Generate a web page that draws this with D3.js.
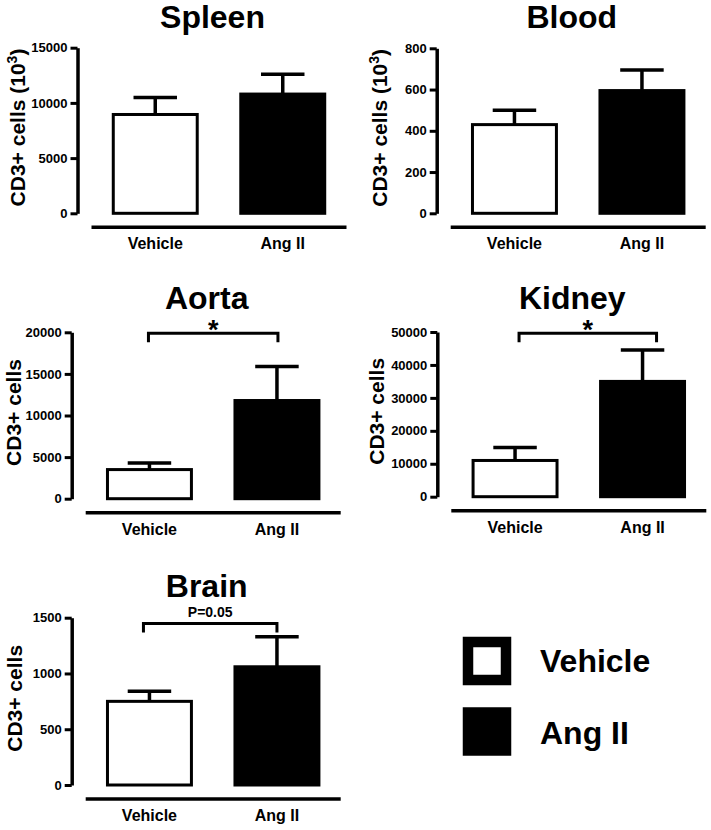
<!DOCTYPE html>
<html><head><meta charset="utf-8">
<script src="https://cdn.jsdelivr.net/npm/d3@7"></script>
<style>
body{margin:0;background:#fff}
text{font-family:"Liberation Sans",Arial,Helvetica,sans-serif;font-weight:bold;fill:#000}
</style>
</head><body>
<svg id="c" width="711" height="830"></svg>
<script>
// ---- data ----
const groups = ["Vehicle", "Ang II"];
const tissues = ["Spleen", "Blood", "Aorta", "Kidney", "Brain"];
const yTitleText = ["CD3+ cells", "CD3+ cells", "CD3+ cells", "CD3+ cells", "CD3+ cells"];
const yTitleExp = ["3", "3", "", "", ""];
const vehicleMean = [8950, 430, 3500, 11000, 750];
const vehicleErr  = [1550, 70, 800, 3900, 90];
const angMean     = [10800, 595, 11800, 35000, 1060];
const angErr      = [1800, 100, 4100, 9500, 270];
const yMax  = [15000, 800, 20000, 50000, 1500];
const yStep = [5000, 200, 5000, 10000, 500];
const sigLabels = ["", "", "*", "*", "P=0.05"];

// ---- layout ----
const layout = [
  {ax: 77.5,  top: 47.7,  bottom: 213.3, titleY: 28.3,  yTitleX: 25,    brY: null,  brDx: [0, 0]},
  {ax: 436.7, top: 48.3,  bottom: 213.3, titleY: 28.3,  yTitleX: 386.5, brY: null,  brDx: [0, 0]},
  {ax: 71.7,  top: 332.3, bottom: 498.7, titleY: 309,   yTitleX: 21,    brY: 333.3, brDx: [-1, 1]},
  {ax: 437.3, top: 332,   bottom: 496.7, titleY: 309,   yTitleX: 384,   brY: 333.3, brDx: [4, 14]},
  {ax: 71.7,  top: 617.7, bottom: 785,   titleY: 596.7, yTitleX: 21.5,  brY: 623.5, brDx: [-6, 0]}
];
const fills = ["#fff", "#000"];

const svg = d3.select("#c");

tissues.forEach((t, i) => {
  const L = layout[i];
  const g = svg.append("g");
  const y = d3.scaleLinear().domain([0, yMax[i]]).range([L.bottom, L.top]);
  const x = d3.scaleBand().domain(groups).range([L.ax + 14, L.ax + 269])
    .paddingInner(0.318).paddingOuter(0.159);
  const means = [vehicleMean[i], angMean[i]];
  const errs = [vehicleErr[i], angErr[i]];

  // y axis
  const yAxis = d3.axisLeft(y).tickValues(d3.range(0, yMax[i] + 1, yStep[i]))
    .tickSize(7).tickPadding(3).tickSizeOuter(0).tickFormat(d3.format("d"));
  const ag = g.append("g").attr("transform", `translate(${L.ax},0)`).call(yAxis);
  ag.select(".domain").attr("stroke", "#000").attr("stroke-width", 3.5);
  ag.selectAll(".tick line").attr("stroke", "#000").attr("stroke-width", 3);
  ag.selectAll(".tick text").style("font-size", "13px").style("font-weight", "bold")
    .style("font-family", '"Liberation Sans",Arial,sans-serif').attr("fill", "#000");

  // x axis line (separate baseline)
  g.append("line").attr("x1", x.range()[0]).attr("x2", x.range()[1])
    .attr("y1", L.bottom + 14).attr("y2", L.bottom + 14)
    .attr("stroke", "#000").attr("stroke-width", 3.5);

  // x labels
  g.selectAll(".xl").data(groups).enter().append("text")
    .attr("x", d => x(d) + x.bandwidth() / 2).attr("y", L.bottom + 36)
    .attr("text-anchor", "middle").style("font-size", "16px").text(d => d);

  // error bars
  groups.forEach((gr, j) => {
    const cx = x(gr) + x.bandwidth() / 2;
    const hw = x.bandwidth() / 4;
    g.append("line").attr("x1", cx).attr("x2", cx)
      .attr("y1", y(means[j])).attr("y2", y(means[j] + errs[j]))
      .attr("stroke", "#000").attr("stroke-width", 3.5);
    g.append("line").attr("x1", cx - hw).attr("x2", cx + hw)
      .attr("y1", y(means[j] + errs[j])).attr("y2", y(means[j] + errs[j]))
      .attr("stroke", "#000").attr("stroke-width", 3.5);
  });

  // bars
  g.selectAll(".bar").data(groups).enter().append("rect")
    .attr("x", d => x(d) + 1.5).attr("width", x.bandwidth() - 3)
    .attr("y", (d, j) => y(means[j])).attr("height", (d, j) => y(0) - y(means[j]))
    .attr("fill", (d, j) => fills[j]).attr("stroke", "#000").attr("stroke-width", 3);

  // title
  g.append("text").attr("x", L.ax + 135).attr("y", L.titleY).attr("text-anchor", "middle")
    .style("font-size", "32px").text(t);

  // y title
  const yt = g.append("text")
    .attr("transform", `translate(${L.yTitleX},${(L.top + L.bottom) / 2 - 3}) rotate(-90)`)
    .attr("text-anchor", "middle").style("font-size", "21px");
  if (yTitleExp[i]) {
    yt.append("tspan").text(yTitleText[i] + " (10");
    yt.append("tspan").attr("baseline-shift", "super").style("font-size", "14px").text(yTitleExp[i]);
    yt.append("tspan").text(")");
  } else {
    yt.text(yTitleText[i]);
  }

  // significance bracket
  if (sigLabels[i]) {
    const x1 = x(groups[0]) + x.bandwidth() / 2 + L.brDx[0];
    const x2 = x(groups[1]) + x.bandwidth() / 2 + L.brDx[1];
    g.append("path")
      .attr("d", `M${x1},${L.brY + 9}V${L.brY}H${x2}V${L.brY + 9}`)
      .attr("fill", "none").attr("stroke", "#000").attr("stroke-width", 3);
    const isStar = sigLabels[i] === "*";
    g.append("text").attr("x", (x1 + x2) / 2).attr("y", isStar ? L.brY + 6 : L.brY - 6.5)
      .attr("text-anchor", "middle").style("font-size", isStar ? "27px" : "14px")
      .text(sigLabels[i]);
  }
});

// legend
const leg = svg.append("g");
groups.forEach((gr, j) => {
  const ly = 642 + j * 70.5;
  leg.append("rect").attr("x", 468).attr("y", ly).attr("width", 38).attr("height", 38)
    .attr("fill", fills[j]).attr("stroke", "#000").attr("stroke-width", 10.5);
  leg.append("text").attr("x", 540).attr("y", ly + 30 + j * 1).style("font-size", "32px").text(gr);
});
</script>
</body></html>
